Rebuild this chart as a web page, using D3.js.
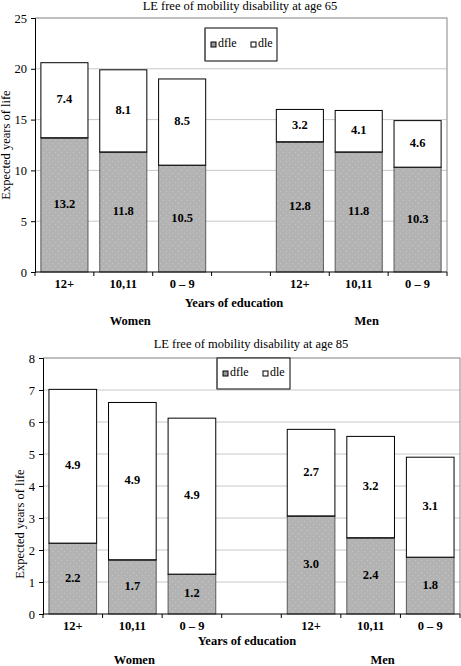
<!DOCTYPE html>
<html><head><meta charset="utf-8">
<script src="https://cdn.jsdelivr.net/npm/d3@7"></script>
<style>
html,body{margin:0;padding:0;background:#fff;}
svg{display:block;font-family:"Liberation Serif","Times New Roman",serif;}
svg text{font-family:"Liberation Serif","Times New Roman",serif;}
</style></head>
<body><svg id="c" width="461" height="666"></svg>
<script>
// ---- data ----
const categories = ["12+", "10,11", "0 \u2013 9", "", "12+", "10,11", "0 \u2013 9"];
const groups = ["Women", "Men"];
const seriesNames = ["dfle", "dle"];
// age 65
const dfle65 = [13.2, 11.8, 10.5, null, 12.8, 11.8, 10.3];
const dle65  = [7.4, 8.1, 8.5, null, 3.2, 4.1, 4.6];
const dfle65Labels = ["13.2", "11.8", "10.5", "", "12.8", "11.8", "10.3"];
const dle65Labels  = ["7.4", "8.1", "8.5", "", "3.2", "4.1", "4.6"];
const yTicks65 = [0, 5, 10, 15, 20, 25];
// age 85
const dfle85 = [2.21, 1.69, 1.24, null, 3.06, 2.38, 1.77];
const dle85  = [4.81, 4.92, 4.88, null, 2.71, 3.17, 3.13];
const dfle85Labels = ["2.2", "1.7", "1.2", "", "3.0", "2.4", "1.8"];
const dle85Labels  = ["4.9", "4.9", "4.9", "", "2.7", "3.2", "3.1"];
const yTicks85 = [0, 1, 2, 3, 4, 5, 6, 7, 8];

const svg = d3.select("#c");
const defs = svg.append("defs");
const pat = defs.append("pattern").attr("id", "dots").attr("patternUnits", "userSpaceOnUse")
  .attr("width", 6).attr("height", 6);
pat.append("rect").attr("width", 6).attr("height", 6).attr("fill", "#b3b3b3");
pat.append("rect").attr("x", 1).attr("y", 2).attr("width", 1).attr("height", 1).attr("fill", "#c6c6c6");
pat.append("rect").attr("x", 4).attr("y", 5).attr("width", 1).attr("height", 1).attr("fill", "#c6c6c6");

function drawChart(o) {
  const g = svg.append("g");
  const idx = categories.map((d, i) => i);
  const x = d3.scaleBand().domain(idx).range([o.left, o.right]).paddingInner(0.2).paddingOuter(0.1);
  const y = d3.scaleLinear().domain([0, o.yMax]).range([o.bottom, o.top]);

  // title
  g.append("text").attr("x", o.titleX).attr("y", o.titleY).attr("text-anchor", "middle")
    .attr("dominant-baseline", "middle").attr("font-size", 12.5).text(o.title);

  // gridlines
  g.selectAll(".grid").data(o.yTicks.filter(t => t > 0)).join("line")
    .attr("x1", o.left).attr("x2", o.right).attr("y1", d => y(d)).attr("y2", d => y(d))
    .attr("stroke", "#c8c8c8").attr("stroke-width", 1);
  // plot border top/right
  g.append("path").attr("d", `M${o.left},${y(o.yMax)}H${o.right}V${o.bottom}`)
    .attr("fill", "none").attr("stroke", "#9a9a9a").attr("stroke-width", 1.2);

  // y axis
  const yAxis = d3.axisLeft(y).tickValues(o.yTicks).tickSize(4).tickPadding(4);
  const ya = g.append("g").attr("transform", `translate(${o.left},0)`).call(yAxis);
  ya.attr("font-family", null);
  ya.select(".domain").attr("stroke", "#000");
  ya.selectAll("text").attr("font-size", 12.5).attr("fill", "#000");
  ya.selectAll("line").attr("stroke", "#000");

  // bars
  const bars = idx.filter(i => o.dfle[i] != null);
  const bw = x.bandwidth();
  g.selectAll(".dfle").data(bars).join("rect")
    .attr("x", i => x(i)).attr("width", bw)
    .attr("y", i => y(o.dfle[i])).attr("height", i => y(0) - y(o.dfle[i]))
    .attr("fill", "url(#dots)").attr("stroke", "#5a5a5a").attr("stroke-width", 1);
  g.selectAll(".dle").data(bars).join("rect")
    .attr("x", i => x(i)).attr("width", bw)
    .attr("y", i => y(o.dfle[i] + o.dle[i])).attr("height", i => y(o.dfle[i]) - y(o.dfle[i] + o.dle[i]))
    .attr("fill", "#fff").attr("stroke", "#000").attr("stroke-width", 1);
  g.selectAll(".sep").data(bars).join("line")
    .attr("x1", i => x(i)).attr("x2", i => x(i) + bw)
    .attr("y1", i => y(o.dfle[i])).attr("y2", i => y(o.dfle[i]))
    .attr("stroke", "#222").attr("stroke-width", 1.2);

  // value labels
  g.selectAll(".lab1").data(bars).join("text")
    .attr("x", i => x(i) + bw / 2).attr("y", i => (y(0) + y(o.dfle[i])) / 2)
    .attr("text-anchor", "middle").attr("dominant-baseline", "middle")
    .attr("font-weight", "bold").attr("font-size", 12.5).text(i => o.dfleLabels[i]);
  g.selectAll(".lab2").data(bars).join("text")
    .attr("x", i => x(i) + bw / 2).attr("y", i => (y(o.dfle[i]) + y(o.dfle[i] + o.dle[i])) / 2)
    .attr("text-anchor", "middle").attr("dominant-baseline", "middle")
    .attr("font-weight", "bold").attr("font-size", 12.5).text(i => o.dleLabels[i]);

  // x axis
  g.append("line").attr("x1", o.left).attr("x2", o.right).attr("y1", o.bottom).attr("y2", o.bottom)
    .attr("stroke", "#000").attr("stroke-width", 1.2);
  const stepW = (o.right - o.left) / categories.length;
  const bounds = d3.range(categories.length + 1).map(k => o.left + k * stepW);
  g.selectAll(".xt").data(bounds).join("line")
    .attr("x1", d => d).attr("x2", d => d).attr("y1", o.bottom).attr("y2", o.bottom + 4)
    .attr("stroke", "#000");
  g.selectAll(".xl").data(idx).join("text")
    .attr("x", i => x(i) + bw / 2).attr("y", o.xLabelY)
    .attr("text-anchor", "middle").attr("dominant-baseline", "middle")
    .attr("font-weight", "bold").attr("font-size", 12.5).text(i => categories[i]);
  g.append("text").attr("x", o.xTitleX).attr("y", o.xTitleY)
    .attr("text-anchor", "middle").attr("dominant-baseline", "middle")
    .attr("font-weight", "bold").attr("font-size", 12.5).text("Years of education");
  groups.forEach((gn, k) => {
    const ci = k === 0 ? 1 : 5;
    g.append("text").attr("x", x(ci) + bw / 2 + o.groupDx[k]).attr("y", o.groupY)
      .attr("text-anchor", "middle").attr("dominant-baseline", "middle")
      .attr("font-weight", "bold").attr("font-size", 12.5).text(gn);
  });

  // y title
  g.append("text").attr("transform", `translate(${o.yTitleX},${o.yTitleY}) rotate(-90)`)
    .attr("text-anchor", "middle").attr("dominant-baseline", "middle")
    .attr("font-size", 12.5).text("Expected years of life");

  // legend
  const L = o.legend;
  g.append("rect").attr("x", L.x).attr("y", L.y).attr("width", L.w).attr("height", L.h)
    .attr("fill", "#fff").attr("stroke", "#000").attr("stroke-width", 1);
  g.append("line").attr("x1", L.x).attr("x2", L.x).attr("y1", L.y).attr("y2", L.y + L.h)
    .attr("stroke", "#666").attr("stroke-width", 1.5);
  const fills = ["#9a9a9a", "#fff"];
  seriesNames.forEach((s, k) => {
    const mx = L.x + 6 + k * 40;
    g.append("rect").attr("x", mx).attr("y", L.y + L.h / 2 - 2.5).attr("width", 5).attr("height", 5)
      .attr("fill", fills[k]).attr("stroke", "#000").attr("stroke-width", 1);
    g.append("text").attr("x", mx + 7).attr("y", L.y + L.h / 2).attr("dominant-baseline", "middle")
      .attr("font-size", 12).text(s);
  });
}

drawChart({
  title: "LE free of mobility disability at age 65", titleX: 240, titleY: 7,
  left: 35, right: 447, top: 18, bottom: 272, yMax: 25, yTicks: yTicks65,
  dfle: dfle65, dle: dle65, dfleLabels: dfle65Labels, dleLabels: dle65Labels,
  xLabelY: 285, xTitleX: 234, xTitleY: 304, groupY: 322, groupDx: [7, 8],
  yTitleX: 7, yTitleY: 145,
  legend: { x: 205, y: 28, w: 72, h: 33 }
});
drawChart({
  title: "LE free of mobility disability at age 85", titleX: 251, titleY: 345,
  left: 43, right: 460, top: 358, bottom: 614, yMax: 8, yTicks: yTicks85,
  dfle: dfle85, dle: dle85, dfleLabels: dfle85Labels, dleLabels: dle85Labels,
  xLabelY: 627, xTitleX: 247, xTitleY: 642, groupY: 661, groupDx: [2, 12],
  yTitleX: 21, yTitleY: 524,
  legend: { x: 217, y: 358, w: 73, h: 31 }
});
</script></body></html>
